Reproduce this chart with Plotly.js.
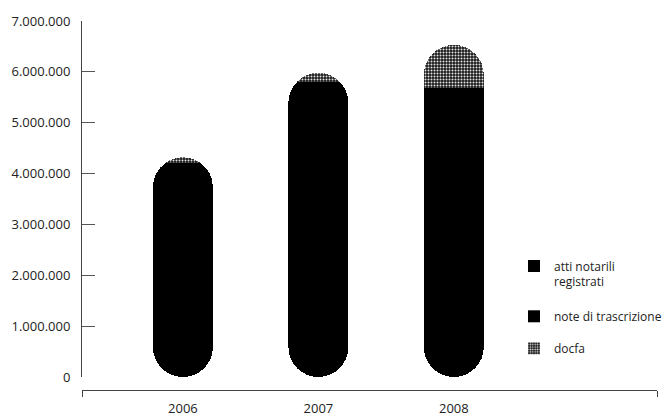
<!DOCTYPE html>
<html>
<head>
<meta charset="utf-8">
<script src="https://cdn.plot.ly/plotly-3.0.1.min.js"></script>
<style>html,body{margin:0;padding:0;background:#fff;}#chart{width:670px;height:418px;}</style>
</head>
<body>
<div id="chart"></div>
<script>
// Data
const categories = ['2006', '2007', '2008'];
const attiNotarili = [1550000, 2100000, 2050000];
const noteTrascrizione = [2650000, 3700000, 3630000];
const docfa = [120000, 180000, 850000];
const yTickVals = [0, 1000000, 2000000, 3000000, 4000000, 5000000, 6000000, 7000000];
const yMax = 7000000;

const xIdx = categories.map((c, i) => i);
const barWidth = 0.443;
const xRange = [-0.745, 3.5];

const traces = [
  // Lower piece: drawn on a reversed overlay axis so its rounded end sits at zero
  {
    type: 'bar', name: 'spacerLow', x: xIdx, y: attiNotarili.map(v => yMax - v), yaxis: 'y2',
    width: barWidth, marker: { color: 'rgba(0,0,0,0)', line: { width: 0 }, cornerradius: '50%' },
    showlegend: false, hoverinfo: 'skip'
  },
  {
    type: 'bar', name: 'atti notarili<br>registrati', x: xIdx, y: attiNotarili, yaxis: 'y2',
    width: barWidth, marker: { color: '#000', line: { width: 0 } },
    legend: 'legend', hoverinfo: 'skip'
  },
  // Upper pieces: normal stack starting where the lower piece ends, rounded at the top
  {
    type: 'bar', name: 'spacerHigh', x: xIdx, y: attiNotarili, width: barWidth,
    marker: { color: 'rgba(0,0,0,0)', line: { width: 0 }, cornerradius: '50%' },
    showlegend: false, hoverinfo: 'skip'
  },
  {
    type: 'bar', name: 'note di trascrizione', x: xIdx, y: noteTrascrizione, width: barWidth,
    marker: { color: '#000', line: { width: 0 } },
    legend: 'legend2', hoverinfo: 'skip'
  },
  {
    type: 'bar', name: 'docfa', x: xIdx, y: docfa, width: barWidth,
    marker: { color: '#222', line: { width: 0 },
      pattern: { shape: '.', bgcolor: '#1a1a1a', fgcolor: '#e6e6e6', size: 3, solidity: 0.35, fillmode: 'replace' } },
    legend: 'legend3', hoverinfo: 'skip'
  }
];

const legendBase = {
  x: 0.7347, xanchor: 'left', yanchor: 'top', itemwidth: 30, valign: 'top',
  font: { size: 12, color: '#222' }, bgcolor: 'rgba(0,0,0,0)'
};

const layout = {
  width: 670, height: 418,
  margin: { l: 82, r: 0, t: 21, b: 28 },
  paper_bgcolor: '#fff', plot_bgcolor: '#fff',
  barmode: 'stack',
  separators: ',.',
  font: { family: 'Open Sans, DejaVu Sans, sans-serif', size: 13, color: '#222' },
  showlegend: true,
  legend: Object.assign({}, legendBase, { y: 0.3745 }),
  legend2: Object.assign({}, legendBase, { y: 0.2385 }),
  legend3: Object.assign({}, legendBase, { y: 0.1518 }),
  xaxis: {
    type: 'linear', range: xRange, domain: [0, 0.9779], anchor: 'free', position: 0,
    tickmode: 'array', tickvals: xIdx, ticktext: categories, ticks: '',
    showline: true, linecolor: '#444', linewidth: 1, showgrid: false, zeroline: false,
    ticklabelstandoff: 6,
    minor: { tickmode: 'array', tickvals: xRange, ticks: 'outside', ticklen: 6, tickcolor: '#444', tickwidth: 1, showgrid: false },
    fixedrange: true
  },
  yaxis: {
    domain: [0.0352, 1], range: [0, yMax],
    tickmode: 'array', tickvals: yTickVals, tickformat: ',d',
    ticks: 'inside', ticklen: 13, tickcolor: '#555', tickwidth: 1,
    showline: true, linecolor: '#444', linewidth: 1,
    showgrid: false, zeroline: false, ticklabelstandoff: 8,
    fixedrange: true
  },
  yaxis2: {
    overlaying: 'y', range: [yMax, 0], visible: false, showgrid: false, zeroline: false,
    fixedrange: true
  }
};

Plotly.newPlot('chart', traces, layout, { displayModeBar: false, staticPlot: true });
</script>
</body>
</html>
